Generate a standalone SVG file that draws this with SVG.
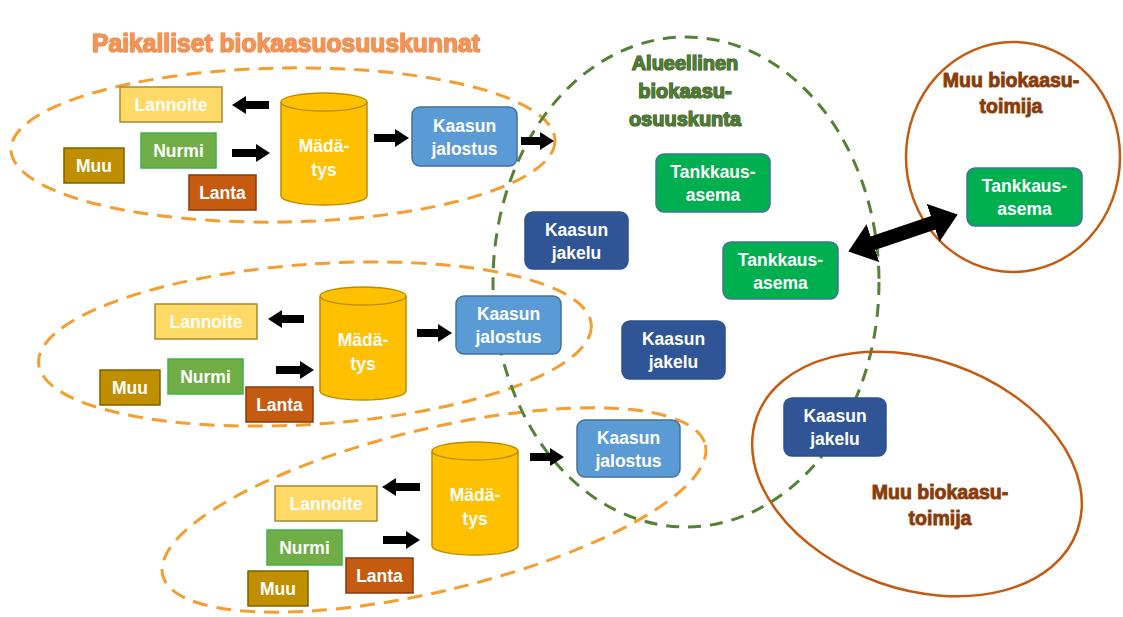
<svg xmlns="http://www.w3.org/2000/svg" width="1123" height="617" viewBox="0 0 1123 617">
<defs>
<style>
.t{font-family:"Liberation Sans",Arial,sans-serif;font-weight:bold;font-size:17.5px;fill:#fff;text-anchor:middle}
.or{fill:none;stroke:#F59D2E;stroke-width:3;stroke-dasharray:15 9}
.gr{fill:none;stroke:#548235;stroke-width:3;stroke-dasharray:13 9}
.br{fill:none;stroke:#C55A11;stroke-width:2.5}
.lan{fill:#FFD966;stroke:#A68A2E;stroke-width:1.5}
.nur{fill:#70AD47;stroke:#3CB34A;stroke-width:1.5}
.muu{fill:#BF8F00;stroke:#7F6000;stroke-width:1.5}
.lta{fill:#C55A11;stroke:#843C0C;stroke-width:1.5}
.cyl{fill:#FFC000;stroke:#BC8C00;stroke-width:1.5}
.jal{fill:#5B9BD5;stroke:#41719C;stroke-width:1.5}
.jak{fill:#2F5597;stroke:#2F528F;stroke-width:1.5}
.tan{fill:#00B050;stroke:#41719C;stroke-width:1.5}
.ar{stroke:#000;stroke-width:8;marker-end:url(#ah)}
.h1{font-family:"Liberation Sans",Arial,sans-serif;font-weight:bold;font-size:26px;fill:#F39457;stroke:#EC7A32;stroke-width:1.2;paint-order:stroke}
.h2{font-family:"Liberation Sans",Arial,sans-serif;font-weight:bold;font-size:20px;fill:#4E7D31;stroke:#375623;stroke-width:1.2;paint-order:stroke;text-anchor:middle}
.h3{font-family:"Liberation Sans",Arial,sans-serif;font-weight:bold;font-size:19.5px;fill:#843C0C;stroke:#A9541E;stroke-width:1;paint-order:stroke;text-anchor:middle}
</style>
<marker id="ah" markerUnits="userSpaceOnUse" viewBox="0 0 14 18" markerWidth="14" markerHeight="18" refX="1" refY="9" orient="auto"><path d="M0,0 L14,9 L0,18 Z" fill="#000"/></marker>
<marker id="dh" markerUnits="userSpaceOnUse" viewBox="0 0 26 40" markerWidth="26" markerHeight="40" refX="1" refY="20" orient="auto-start-reverse"><path d="M0,0 L26,20 L0,40 Z" fill="#000"/></marker>
</defs>
<rect width="1123" height="617" fill="#fff"/>

<g id="regions">
<g id="local1"><ellipse class="or" cx="283" cy="145" rx="272" ry="77" transform="rotate(-1 283 145)"/></g>
<g id="local2"><ellipse class="or" cx="315" cy="344" rx="277" ry="80" transform="rotate(-4 315 344)"/></g>
<g id="local3"><ellipse class="or" cx="434" cy="510" rx="279" ry="81" transform="rotate(-13.5 434 510)"/></g>
<g id="regional"><ellipse class="gr" cx="686" cy="282" rx="193" ry="245"/></g>
<g id="other1"><ellipse class="br" cx="1013" cy="157" rx="107" ry="115"/></g>
<g id="other2"><ellipse class="br" cx="917" cy="474" rx="170" ry="115" transform="rotate(19.4 917 474)"/></g>
</g>

<g id="titles">
<text class="h1" x="92" y="52" textLength="388" lengthAdjust="spacingAndGlyphs">Paikalliset biokaasuosuuskunnat</text>
<text class="h2" x="685" y="70">Alueellinen</text>
<text class="h2" x="685" y="98">biokaasu-</text>
<text class="h2" x="685" y="126">osuuskunta</text>
<text class="h3" x="1011" y="87">Muu biokaasu-</text>
<text class="h3" x="1011" y="113">toimija</text>
<text class="h3" x="940" y="499">Muu biokaasu-</text>
<text class="h3" x="940" y="525">toimija</text>
</g>

<!-- group 1 -->
<g id="lannoite1"><rect class="lan" x="120" y="87" width="102" height="35"/><text class="t" x="171" y="111">Lannoite</text></g>
<g id="nurmi1"><rect class="nur" x="141" y="133" width="75" height="35"/><text class="t" x="178.5" y="157">Nurmi</text></g>
<g id="muu1"><rect class="muu" x="64" y="148" width="60" height="35"/><text class="t" x="94" y="172">Muu</text></g>
<g id="lanta1"><rect class="lta" x="189" y="175" width="67" height="35"/><text class="t" x="222.5" y="199">Lanta</text></g>
<g id="madatys1"><path class="cyl" d="M281,102 A43,9 0 0 1 367,102 V196 A43,9 0 0 1 281,196 Z"/><path d="M281,102 A43,9 0 0 0 367,102" fill="none" stroke="#BC8C00" stroke-width="1.5"/><text class="t" x="324" y="152">Mädä-</text><text class="t" x="324" y="176">tys</text></g>
<g id="jalostus1"><rect class="jal" x="412" y="107" width="105" height="59" rx="8"/><text class="t" x="464.5" y="131.5">Kaasun</text><text class="t" x="464.5" y="154.5">jalostus</text></g>

<!-- group 2 -->
<g id="lannoite2"><rect class="lan" x="155" y="304" width="102" height="35"/><text class="t" x="206" y="328">Lannoite</text></g>
<g id="nurmi2"><rect class="nur" x="168" y="359" width="75" height="35"/><text class="t" x="205.5" y="383">Nurmi</text></g>
<g id="muu2"><rect class="muu" x="100" y="370" width="60" height="35"/><text class="t" x="130" y="394">Muu</text></g>
<g id="lanta2"><rect class="lta" x="246" y="387" width="67" height="35"/><text class="t" x="279.5" y="411">Lanta</text></g>
<g id="madatys2"><path class="cyl" d="M320,296 A43,9 0 0 1 406,296 V391 A43,9 0 0 1 320,391 Z"/><path d="M320,296 A43,9 0 0 0 406,296" fill="none" stroke="#BC8C00" stroke-width="1.5"/><text class="t" x="363" y="346">Mädä-</text><text class="t" x="363" y="370">tys</text></g>
<g id="jalostus2"><rect class="jal" x="456" y="296" width="105" height="58" rx="8"/><text class="t" x="508.5" y="320">Kaasun</text><text class="t" x="508.5" y="343">jalostus</text></g>

<!-- group 3 -->
<g id="lannoite3"><rect class="lan" x="275" y="486" width="102" height="35"/><text class="t" x="326" y="510">Lannoite</text></g>
<g id="nurmi3"><rect class="nur" x="267" y="530" width="75" height="35"/><text class="t" x="304.5" y="554">Nurmi</text></g>
<g id="muu3"><rect class="muu" x="248" y="571" width="60" height="35"/><text class="t" x="278" y="595">Muu</text></g>
<g id="lanta3"><rect class="lta" x="346" y="558" width="67" height="35"/><text class="t" x="379.5" y="582">Lanta</text></g>
<g id="madatys3"><path class="cyl" d="M432,451 A43,9 0 0 1 518,451 V546 A43,9 0 0 1 432,546 Z"/><path d="M432,451 A43,9 0 0 0 518,451" fill="none" stroke="#BC8C00" stroke-width="1.5"/><text class="t" x="475" y="501">Mädä-</text><text class="t" x="475" y="525">tys</text></g>
<g id="jalostus3"><rect class="jal" x="577" y="420" width="103" height="57" rx="8"/><text class="t" x="628.5" y="443.5">Kaasun</text><text class="t" x="628.5" y="466.5">jalostus</text></g>

<!-- regional -->
<g id="tankkaus1"><rect class="tan" x="656" y="154" width="114" height="58" rx="8"/><text class="t" x="713" y="178">Tankkaus-</text><text class="t" x="713" y="201">asema</text></g>
<g id="jakelu1"><rect class="jak" x="525" y="212" width="103" height="57" rx="8"/><text class="t" x="576.5" y="235.5">Kaasun</text><text class="t" x="576.5" y="258.5">jakelu</text></g>
<g id="tankkaus2"><rect class="tan" x="723" y="242" width="115" height="57" rx="8"/><text class="t" x="780.5" y="265.5">Tankkaus-</text><text class="t" x="780.5" y="288.5">asema</text></g>
<g id="jakelu2"><rect class="jak" x="622" y="321" width="103" height="58" rx="8"/><text class="t" x="673.5" y="345">Kaasun</text><text class="t" x="673.5" y="368">jakelu</text></g>
<g id="tankkaus3"><rect class="tan" x="967" y="168" width="115" height="58" rx="8"/><text class="t" x="1024.5" y="192">Tankkaus-</text><text class="t" x="1024.5" y="215">asema</text></g>
<g id="jakelu3"><rect class="jak" x="784" y="398" width="102" height="58" rx="8"/><text class="t" x="835" y="422">Kaasun</text><text class="t" x="835" y="445">jakelu</text></g>

<g id="connectors">
<line class="ar" x1="269" y1="105" x2="245" y2="105"/>
<line class="ar" x1="232" y1="153" x2="257" y2="153"/>
<line class="ar" x1="374" y1="138" x2="396" y2="138"/>
<line class="ar" x1="521" y1="141" x2="541" y2="141"/>
<line class="ar" x1="304" y1="319" x2="281" y2="319"/>
<line class="ar" x1="276" y1="370" x2="301" y2="370"/>
<line class="ar" x1="417" y1="333" x2="439" y2="333"/>
<line class="ar" x1="530" y1="457" x2="551" y2="457"/>
<line class="ar" x1="420" y1="487" x2="395" y2="487"/>
<line class="ar" x1="383" y1="540" x2="407" y2="540"/>
<line x1="872" y1="243.5" x2="934" y2="222.5" stroke="#000" stroke-width="14" marker-start="url(#dh)" marker-end="url(#dh)"/>
</g>
</svg>
